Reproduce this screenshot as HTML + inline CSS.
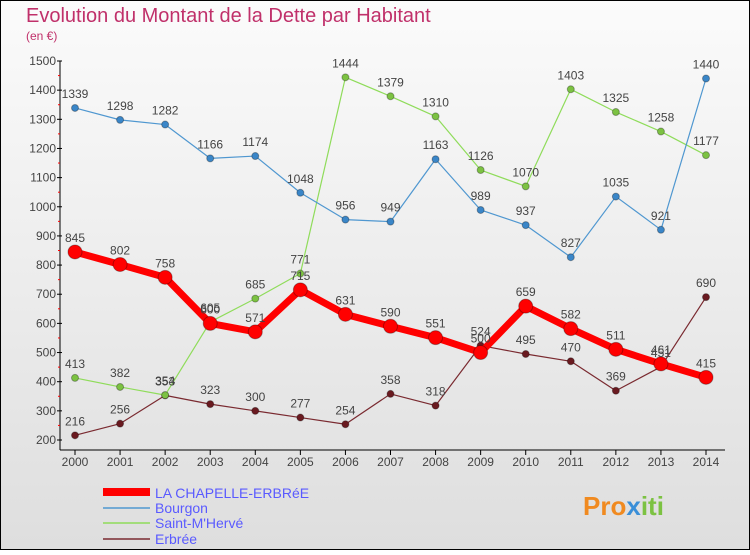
<!DOCTYPE html>
<html><head><meta charset="utf-8"><style>
body{margin:0;width:750px;height:550px;overflow:hidden;font-family:"Liberation Sans",sans-serif}
svg text{font-family:"Liberation Sans",sans-serif}
</style></head><body>
<svg width="750" height="550" xmlns="http://www.w3.org/2000/svg">
<defs><linearGradient id="bg" x1="0" y1="0" x2="0" y2="1"><stop offset="0" stop-color="#fbfbfb"/><stop offset="1" stop-color="#dedede"/></linearGradient></defs>
<rect x="0.5" y="0.5" width="749" height="549" fill="url(#bg)" stroke="#000"/>
<text x="26" y="22" font-size="20" fill="#c0306a">Evolution du Montant de la Dette par Habitant</text>
<text x="26" y="40" font-size="12" fill="#c0306a">(en €)</text>
<g id="axes"></g><g id="series"></g><g id="labels"></g>
<g>
<line x1="103" y1="492" x2="150" y2="492" stroke="#f00" stroke-width="8"/>
<text x="155" y="498" font-size="14" fill="#5a5aff">LA CHAPELLE-ERBRéE</text>
<line x1="103" y1="508" x2="150" y2="508" stroke="#4f97d0" stroke-width="1.5"/>
<text x="155" y="513" font-size="14" fill="#5a5aff">Bourgon</text>
<line x1="103" y1="523" x2="150" y2="523" stroke="#8fdc5a" stroke-width="1.5"/>
<text x="155" y="528" font-size="14" fill="#5a5aff">Saint-M'Hervé</text>
<line x1="103" y1="539" x2="150" y2="539" stroke="#7a2a30" stroke-width="1.5"/>
<text x="155" y="544" font-size="14" fill="#5a5aff">Erbrée</text>
</g>
<text x="583" y="515" font-size="26" font-weight="bold" fill="#f08a20">Pro<tspan fill="#3a8fd8">x</tspan><tspan fill="#7cc242">iti</tspan></text>
</svg>
<script>
const years=[2000,2001,2002,2003,2004,2005,2006,2007,2008,2009,2010,2011,2012,2013,2014];
const yTicks=[200,300,400,500,600,700,800,900,1000,1100,1200,1300,1400,1500];
const chapelle=[845,802,758,600,571,715,631,590,551,500,659,582,511,461,415];
const bourgon=[1339,1298,1282,1166,1174,1048,956,949,1163,989,937,827,1035,921,1440];
const herve=[413,382,354,605,685,771,1444,1379,1310,1126,1070,1403,1325,1258,1177];
const erbree=[216,256,353,323,300,277,254,358,318,524,495,470,369,451,690];
const NS="http://www.w3.org/2000/svg";
const X=i=>75+i*(631/14);
const Y=v=>440-(v-200)*(379/1300);
function mk(t,a,p){const e=document.createElementNS(NS,t);for(const k in a)e.setAttribute(k,a[k]);p.appendChild(e);return e;}
const ax=document.getElementById('axes'),se=document.getElementById('series'),lb=document.getElementById('labels');
const yl=mk('line',{x1:60,y1:Y(1500),x2:60,y2:450,stroke:'#000'},ax);


const xl=mk('line',{x1:60,y1:450,x2:725,y2:450,stroke:'#000'},ax);


yTicks.forEach(v=>{
 mk('line',{x1:57,y1:Y(v),x2:62,y2:Y(v),stroke:'#000'},ax);
 if(v<1500)mk('line',{x1:58,y1:Y(v+50),x2:60,y2:Y(v+50),stroke:'#f00'},ax);
 const t=mk('text',{x:56,y:Y(v)+4,'font-size':12,fill:'#444','text-anchor':'end'},ax);t.textContent=v;
 
 
});
years.forEach((y,i)=>{
 mk('line',{x1:X(i),y1:450,x2:X(i),y2:455,stroke:'#000'},ax);
 const t=mk('text',{x:X(i),y:466,'font-size':12,fill:'#444','text-anchor':'middle'},ax);t.textContent=y;
 
 
});
function draw(data,color,w,r,mcol,name,lcol){
 const g=mk('g',{},se);
 
 
 mk('polyline',{points:data.map((v,i)=>X(i)+','+Y(v)).join(' '),fill:'none',stroke:color,'stroke-width':w,'stroke-linejoin':'round'},g);
 data.forEach((v,i)=>{
  const c=mk('circle',{cx:X(i),cy:Y(v),r:r,fill:mcol,stroke:'rgba(0,0,0,0.3)','stroke-width':1},g);
  
  
  const t=mk('text',{x:X(i),y:Y(v)-10,'font-size':12,fill:lcol,'text-anchor':'middle'},lb);t.textContent=v;
  
  
 });
}
draw(erbree,'#7a2a30',1.2,3.5,'#6a1a20','erbree','#444');
draw(herve,'#8fdc5a',1.2,3.5,'#7cc242','saint-m-herve','#444');
draw(bourgon,'#4f97d0',1.2,3.5,'#3a86c8','bourgon','#444');
draw(chapelle,'#f00',7,7,'#f00','chapelle','#444');
</script>
</body></html>
